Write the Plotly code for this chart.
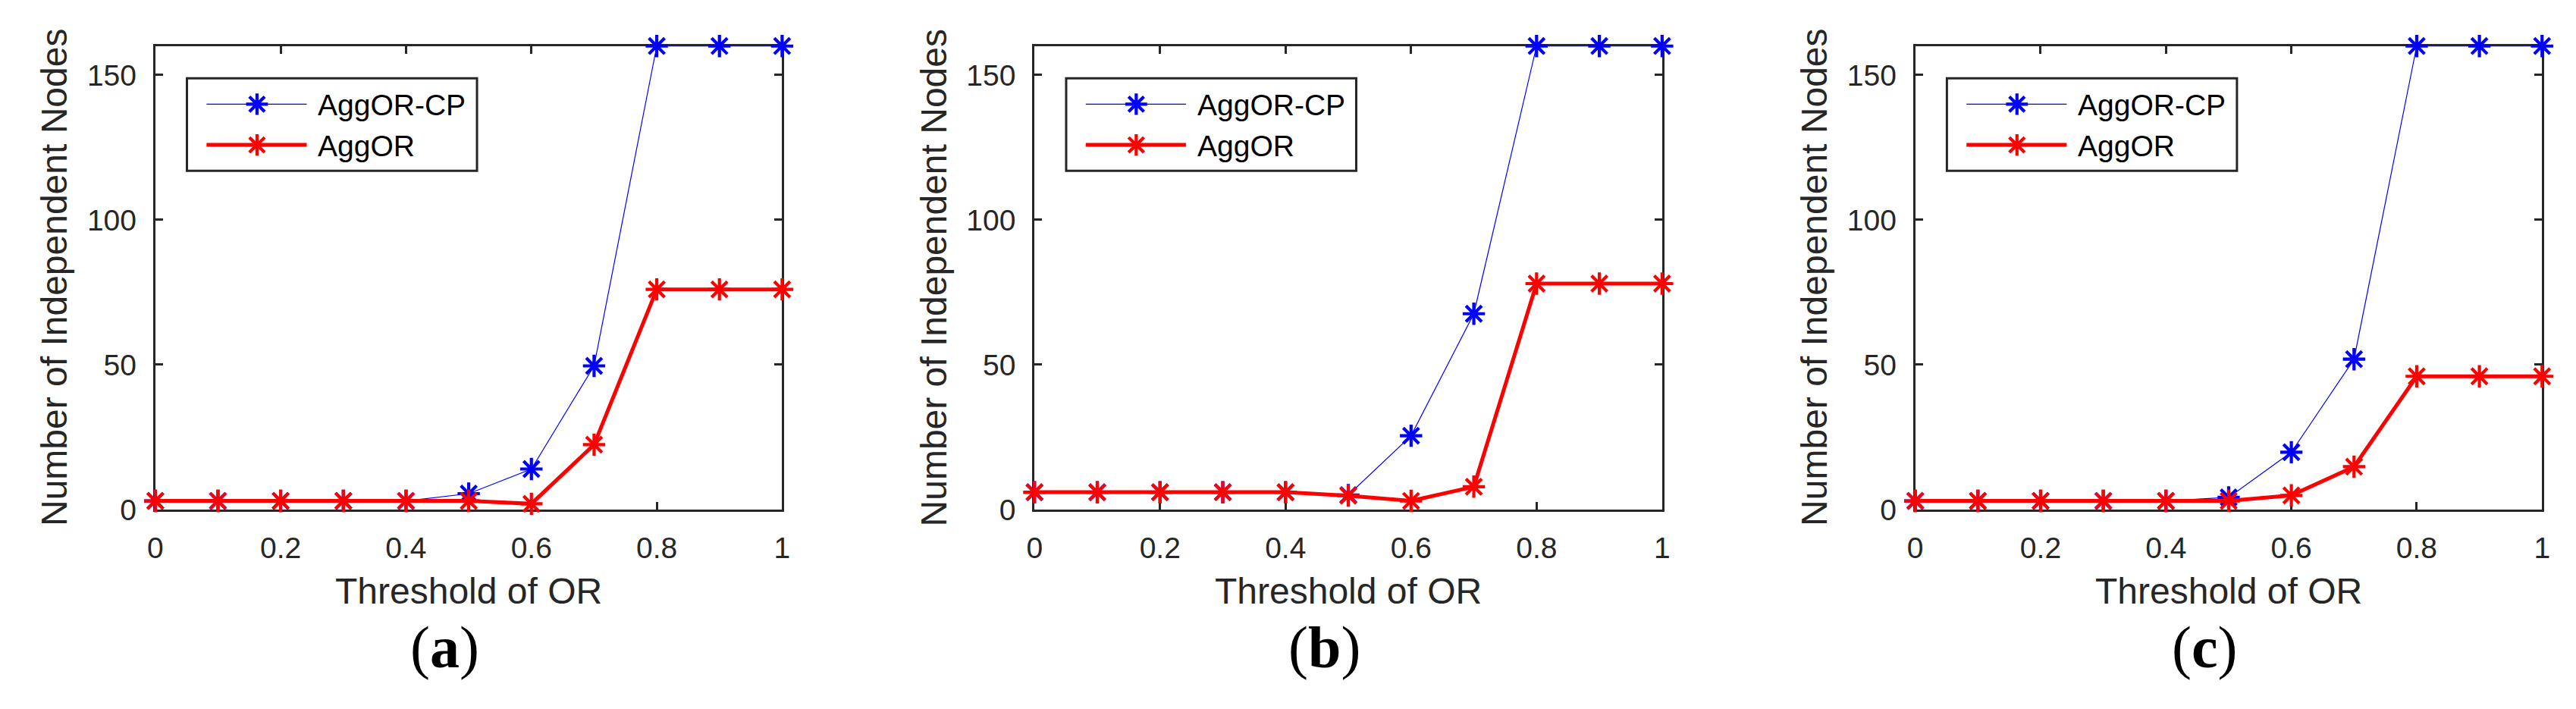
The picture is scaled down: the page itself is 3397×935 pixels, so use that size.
import plotly.graph_objects as go

W, H = 3397, 935

thresholds = [0, 0.1, 0.2, 0.3, 0.4, 0.5, 0.6, 0.7, 0.8, 0.9, 1.0]
a_aggor_cp = [3, 3, 3, 3, 3, 5.5, 14, 49.6, 160, 160, 160]
a_aggor = [3, 3, 3, 3, 3, 3, 2, 22.4, 76, 76, 76]
b_aggor_cp = [6, 6, 6, 6, 6, 5, 25.5, 67.6, 160, 160, 160]
b_aggor = [6, 6, 6, 6, 6, 4.8, 3, 7.9, 78, 78, 78]
c_aggor_cp = [3, 3, 3, 3, 3, 4.2, 19.8, 51.9, 160, 160, 160]
c_aggor = [3, 3, 3, 3, 3, 3, 4.9, 14.8, 46, 46, 46]

series_names = ["AggOR-CP", "AggOR"]
panel_labels = ["a", "b", "c"]
xtick_vals = [0, 0.2, 0.4, 0.6, 0.8, 1]
xtick_text = ["0", "0.2", "0.4", "0.6", "0.8", "1"]
ytick_vals = [0, 50, 100, 150]
ytick_text = ["0", "50", "100", "150"]
x_title = "Threshold of OR"
y_title = "Number of Independent Nodes"

# layout in pixels
panel_px = [(187, 1019), (1354, 2187), (2523, 3355)]
top_px, bot_px = 54, 680
AX = "#262626"
FONT = "Liberation Sans"
BLUE, RED = "#0000FF", "#FF0000"
styles = [dict(color=BLUE, lw=1.2), dict(color=RED, lw=5)]


def px(x):
    return x / W


def py(y):
    return 1 - y / H


def asterisk_path(cx, cy, rc=14.5, rs=10.2):
    pts = [((cx - rc, cy), (cx + rc, cy)),
           ((cx, cy - rc), (cx, cy + rc)),
           ((cx - rs, cy - rs), (cx + rs, cy + rs)),
           ((cx - rs, cy + rs), (cx + rs, cy - rs))]
    return " ".join(f"M{px(a[0]):.6f},{py(a[1]):.6f} L{px(b[0]):.6f},{py(b[1]):.6f}"
                    for a, b in pts)


fig = go.Figure()
datasets = [(a_aggor_cp, a_aggor), (b_aggor_cp, b_aggor), (c_aggor_cp, c_aggor)]
for i, pair in enumerate(datasets):
    xa = "x" if i == 0 else f"x{i+1}"
    ya = "y" if i == 0 else f"y{i+1}"
    for vals, name, st in zip(pair, series_names, styles):
        fig.add_trace(go.Scatter(
            x=thresholds, y=vals, mode="lines+markers", name=name,
            xaxis=xa, yaxis=ya, cliponaxis=False, showlegend=False,
            line=dict(color=st["color"], width=st["lw"]),
            marker=dict(symbol="asterisk", size=24.5, color=st["color"],
                        line=dict(color=st["color"], width=4.2)),
        ))

layout = dict(
    width=W, height=H, margin=dict(l=0, r=0, t=0, b=0),
    plot_bgcolor="white", paper_bgcolor="white",
    font=dict(family=FONT, color=AX),
    showlegend=False,
)
annotations = []
shapes = []
ydom = [1 - bot_px / H, 1 - top_px / H]
for i, (l, r) in enumerate(panel_px):
    sfx = "" if i == 0 else str(i + 1)
    common = dict(
        ticks="inside", ticklen=10, tickwidth=3, tickcolor=AX,
        showline=True, linewidth=3, linecolor=AX, mirror="ticks",
        showgrid=False, zeroline=False, layer="below traces",
        tickfont=dict(size=39, color=AX, family=FONT), ticklabelstandoff=14,
    )
    layout[f"xaxis{sfx}"] = dict(
        domain=[l / W, r / W], range=[0, 1], anchor=f"y{sfx}",
        tickvals=xtick_vals, ticktext=xtick_text, **common)
    layout[f"yaxis{sfx}"] = dict(
        domain=ydom, range=[0, 160], anchor=f"x{sfx}",
        tickvals=ytick_vals, ticktext=ytick_text, **common)

    # legend (drawn manually to match the reference geometry)
    shapes.append(dict(type="rect", xref="paper", yref="paper",
                       x0=px(l + 42), x1=px(l + 427), y0=py(222.5), y1=py(97.5),
                       line=dict(color=AX, width=3), fillcolor="white", layer="above"))
    for k, (name, st) in enumerate(zip(series_names, styles)):
        row_y = 132.5 + 55 * k
        shapes.append(dict(type="line", xref="paper", yref="paper",
                           x0=px(l + 68), x1=px(l + 201), y0=py(row_y), y1=py(row_y),
                           line=dict(color=st["color"], width=st["lw"]), layer="above"))
        shapes.append(dict(type="path", xref="paper", yref="paper",
                           path=asterisk_path(l + 135, row_y),
                           line=dict(color=st["color"], width=4.2), layer="above"))
        annotations.append(dict(
            text=name, x=px(l + 214), y=py(row_y + 1.5), xref="paper", yref="paper",
            xanchor="left", yanchor="middle", showarrow=False,
            font=dict(size=39, color="black", family=FONT),
        ))

    cx = (l + r) / 2
    annotations.append(dict(
        text=x_title, x=px(cx), y=py(790), xref="paper", yref="paper",
        xanchor="center", yanchor="middle", showarrow=False,
        font=dict(size=48, color=AX, family=FONT),
    ))
    annotations.append(dict(
        text=y_title, x=px(l - 134), y=py((top_px + bot_px) / 2),
        xref="paper", yref="paper", textangle=-90,
        xanchor="center", yanchor="middle", showarrow=False,
        font=dict(size=48, color=AX, family=FONT),
    ))
    annotations.append(dict(
        text=f"(<b>{panel_labels[i]}</b>)", x=px(cx - 32), y=py(866),
        xref="paper", yref="paper", xanchor="center", yanchor="middle",
        showarrow=False, font=dict(size=78, color="black", family="Liberation Serif"),
    ))
layout["annotations"] = annotations
layout["shapes"] = shapes
fig.update_layout(**layout)
fig.write_html("out.html")
